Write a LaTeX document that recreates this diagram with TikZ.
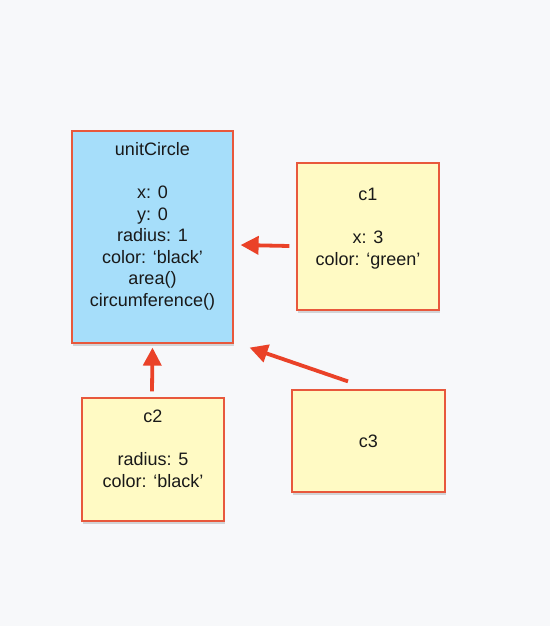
\documentclass[tikz,border=0pt]{standalone}
\usepackage{fontspec}
\setmainfont{Liberation Sans}
\usetikzlibrary{arrows.meta,shadows}
\definecolor{paper}{RGB}{247, 248, 250}
\definecolor{skyblue}{RGB}{166, 222, 250}
\definecolor{lemon}{RGB}{255, 250, 196}
\definecolor{brick}{RGB}{232, 88, 60}
\definecolor{vermilion}{RGB}{234, 66, 40}
\tikzset{
    objbox/.style  = {draw=brick, line width=1.2pt, inner sep=0pt,
                      drop shadow={opacity=0.3, shadow xshift=1pt, shadow yshift=-2.5pt}},
    objtext/.style = {align=center, inner sep=0pt, text=black!90, font=\fontsize{18}{21.5}\selectfont},
    proto/.style   = {draw=vermilion, line width=3.8pt,
                      -{Triangle[length=18pt, width=18pt]}}
}
\begin{document}
\begin{tikzpicture}[x=1pt, y=-1pt]
            % Background
            \fill[paper] (0, 0) rectangle (550, 626);
            \useasboundingbox (0, 0) rectangle (550, 626);
            % Prototype object
            \node[objbox, fill=skyblue, minimum width=161pt, minimum height=212pt] (unitCircle) at (152.5, 237.0) {};
            \node[objtext, anchor=north] (unitCircleText) at (152.5, 142.5)
                 {unitCircle\\ \\x: 0\\y: 0\\radius: 1\\color: ‘black’\\area()\\circumference()};
            % Derived objects
            \node[objbox, fill=lemon, minimum width=142pt, minimum height=147pt] (c1) at (368.0, 236.5) {};
            \node[objtext, anchor=north] (c1Text) at (368.0, 188.0)
                 {c1\\ \\x: 3\\color: ‘green’};
            \node[objbox, fill=lemon, minimum width=142pt, minimum height=123pt] (c2) at (153.0, 459.5) {};
            \node[objtext, anchor=north] (c2Text) at (153.0, 410.0)
                 {c2\\ \\radius: 5\\color: ‘black’};
            \node[objbox, fill=lemon, minimum width=153pt, minimum height=102pt] (c3) at (368.5, 441.0) {};
            \node[objtext] (c3Text) at (368.5, 441.0) {c3};
            % Prototype links
            \draw[proto] ([shift={( -7.0,  9.5)}]c1.west)  -- ([shift={( 7.0, 8.0)}]unitCircle.east);
            \draw[proto] ([shift={( -1.0, -6.0)}]c2.north) -- ([shift={( 0.0, 4.0)}]unitCircle.south);
            \draw[proto] ([shift={(-20.5, -8.0)}]c3.north) -- ([shift={(16.0, 4.0)}]unitCircle.south east);
        \end{tikzpicture}
\end{document}
